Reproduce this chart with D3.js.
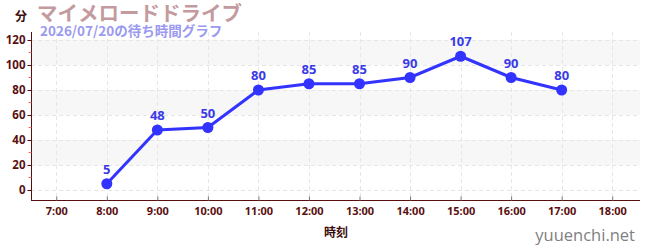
<!DOCTYPE html>
<html>
<head>
<meta charset="utf-8">
<script src="https://cdn.jsdelivr.net/npm/d3@7"></script>
<style>
  body { margin: 0; background: #fff; }
  svg { display: block; font-family: "Noto Sans CJK JP", "Noto Sans", sans-serif; }
</style>
</head>
<body>
<svg id="chart" width="650" height="250"></svg>
<script>
// data
var hours = ["8:00", "9:00", "10:00", "11:00", "12:00", "13:00", "14:00", "15:00", "16:00", "17:00"];
var waits = [5, 48, 50, 80, 85, 85, 90, 107, 90, 80];
var xTickLabels = ["7:00", "8:00", "9:00", "10:00", "11:00", "12:00", "13:00", "14:00", "15:00", "16:00", "17:00", "18:00"];
var yTicks = [0, 20, 40, 60, 80, 100, 120];
var yMinorTicks = [10, 30, 50, 70, 90, 110];

var svg = d3.select("#chart");
// note: "top" is taken by window.top, so plot edges get their own names
var plotLeft = 31, plotRight = 640, plotTop = 32, plotBottom = 200;
var axisColor = "#5a0f0f";

function hourOf(label) { return +label.split(":")[0]; }

var x = d3.scaleLinear().domain([6.5, 18.55]).range([plotLeft, plotRight]);
var y = d3.scaleLinear().domain([-8, 126.4]).range([plotBottom, plotTop]);

// striped bands
var bands = [[20, 40], [60, 80], [100, 120]];
svg.append("g").selectAll("rect").data(bands).enter().append("rect")
  .attr("x", plotLeft).attr("width", plotRight - plotLeft)
  .attr("y", function (d) { return y(d[1]); })
  .attr("height", function (d) { return y(d[0]) - y(d[1]); })
  .attr("fill", "#f7f7f7");

// grid lines
var grid = svg.append("g").attr("stroke", "#e6e6e6").attr("stroke-dasharray", "4,3").attr("stroke-width", 1);
grid.selectAll(".h").data(yTicks).enter().append("line")
  .attr("x1", plotLeft).attr("x2", plotRight)
  .attr("y1", function (d) { return Math.round(y(d)) + 0.5; }).attr("y2", function (d) { return Math.round(y(d)) + 0.5; });
grid.selectAll(".v").data(xTickLabels).enter().append("line")
  .attr("y1", plotTop).attr("y2", plotBottom)
  .attr("x1", function (d) { return Math.round(x(hourOf(d))) + 0.5; })
  .attr("x2", function (d) { return Math.round(x(hourOf(d))) + 0.5; });

// y axis
var yAxis = d3.axisLeft(y).tickValues(yTicks).tickSize(4).tickPadding(2);
var gy = svg.append("g").attr("transform", "translate(" + (plotLeft + 0.5) + ",0)").call(yAxis);
gy.select(".domain").attr("stroke", axisColor).attr("d", "M0," + plotTop + "V" + plotBottom);
gy.selectAll(".tick line").attr("stroke", axisColor);
gy.selectAll(".tick text").attr("fill", axisColor).style("font-size", "11.5px").style("font-weight", "bold")
  .style("font-family", "'Noto Sans', sans-serif");
gy.selectAll(".minor").data(yMinorTicks).enter().append("line")
  .attr("x1", -3).attr("x2", 0)
  .attr("y1", function (d) { return y(d); }).attr("y2", function (d) { return y(d); })
  .attr("stroke", "#f07070");

// x axis
var xAxis = d3.axisBottom(x).tickValues(xTickLabels.map(hourOf)).tickSize(4).tickPadding(3)
  .tickFormat(function (d) { return d + ":00"; });
var gx = svg.append("g").attr("transform", "translate(0," + (plotBottom + 0.5) + ")").call(xAxis);
gx.select(".domain").attr("stroke", axisColor).attr("d", "M" + plotLeft + ",0H" + plotRight);
gx.selectAll(".tick line").attr("stroke", "#777").attr("transform", "translate(0,-4)");
gx.selectAll(".tick text").attr("fill", axisColor).style("font-size", "11px").style("font-weight", "bold")
  .style("font-family", "'Noto Sans', sans-serif");

// axis titles
svg.append("text").attr("x", 336).attr("y", 237).attr("text-anchor", "middle")
  .attr("fill", "#3a0a0a").style("font-size", "12px").style("font-weight", "bold").text("時刻");
svg.append("text").attr("x", 15).attr("y", 21)
  .attr("fill", "#3a0a0a").style("font-size", "12px").style("font-weight", "bold").text("分");

// title + subtitle
svg.append("text").attr("x", 37).attr("y", 21)
  .attr("fill", "#c39a9e").style("font-size", "20.5px").style("font-weight", "bold").text("マイメロードドライブ");
svg.append("text").attr("x", 40).attr("y", 36)
  .attr("fill", "#9a9af0").style("font-size", "13.5px").style("font-weight", "bold").text("2026/07/20の待ち時間グラフ");

// series
var pts = hours.map(function (h, i) { return [hourOf(h), waits[i]]; });
var line = d3.line().x(function (d) { return x(d[0]); }).y(function (d) { return y(d[1]); });
svg.append("path").datum(pts).attr("d", line)
  .attr("fill", "none").attr("stroke", "#3333ff").attr("stroke-width", 3);
svg.append("g").selectAll("circle").data(pts).enter().append("circle")
  .attr("cx", function (d) { return x(d[0]); }).attr("cy", function (d) { return y(d[1]); })
  .attr("r", 5.5).attr("fill", "#3333ff");
svg.append("g").selectAll("text").data(pts).enter().append("text")
  .attr("x", function (d) { return x(d[0]); }).attr("y", function (d) { return y(d[1]) - 10; })
  .attr("text-anchor", "middle").attr("fill", "#3a3ae8")
  .style("font-size", "13px").style("font-weight", "bold").style("font-family", "'Open Sans', sans-serif")
  .text(function (d) { return d[1]; });

// watermark
svg.append("text").attr("x", 635).attr("y", 241).attr("text-anchor", "end")
  .attr("fill", "#808080").style("font-size", "16.5px").style("font-family", "'Open Sans', sans-serif")
  .text("yuuenchi.net");
</script>
</body>
</html>
